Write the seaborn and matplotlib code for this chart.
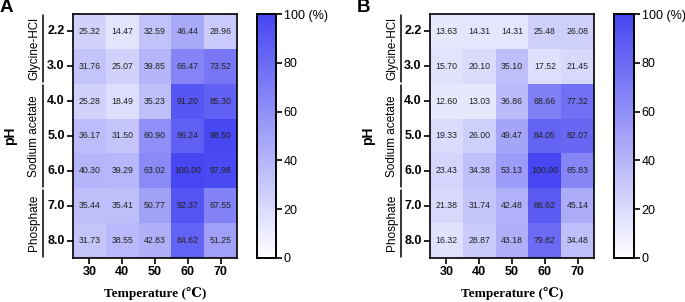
import numpy as np
import pandas as pd
import matplotlib
matplotlib.use("Agg")
import matplotlib.pyplot as plt
import seaborn as sns
from matplotlib.colors import LinearSegmentedColormap
import matplotlib.transforms as mtransforms

# =====================
# DATA
# =====================
temps = [30, 40, 50, 60, 70]
ph_labels = ["2.2", "3.0", "4.0", "5.0", "6.0", "7.0", "8.0"]
buffers = ["Glycine-HCl", "Sodium acetate", "Phosphate"]
buffer_rows = [(0, 2), (2, 5), (5, 7)]

vals_a = [
    [25.32, 14.47, 32.59, 46.44, 28.96],
    [31.76, 25.07, 39.85, 66.47, 73.52],
    [25.28, 18.49, 35.23, 91.20, 85.30],
    [36.17, 31.50, 60.90, 86.24, 98.50],
    [40.30, 39.29, 63.02, 100.00, 97.98],
    [35.44, 35.41, 50.77, 92.37, 67.55],
    [31.73, 38.55, 42.83, 84.62, 51.25],
]
vals_b = [
    [13.63, 14.31, 14.31, 25.48, 26.08],
    [15.70, 20.10, 35.10, 17.52, 21.45],
    [12.60, 13.03, 36.86, 68.66, 77.32],
    [19.33, 26.00, 49.47, 84.05, 82.07],
    [23.43, 34.38, 53.13, 100.00, 65.83],
    [21.38, 31.74, 42.48, 88.62, 45.14],
    [16.32, 28.87, 43.18, 79.82, 34.48],
]
cbar_ticks = [0, 20, 40, 60, 80, 100]
cbar_ticklabels = ["0", "20", "40", "60", "80", "100 (%)"]

# =====================
# STYLE
# =====================
sns.set_theme(style="white")
plt.rcParams["font.family"] = ["Liberation Sans", "DejaVu Sans"]
for key in ["text.color", "axes.labelcolor", "xtick.color", "ytick.color"]:
    plt.rcParams[key] = "black"
cmap = LinearSegmentedColormap.from_list("wb", ["#ffffff", "#4646f2"])

fig = plt.figure(figsize=(6.85, 3.02), dpi=100)
W, H = 685.0, 302.0


def px_axes(x0, y0, x1, y1):
    return fig.add_axes([x0 / W, 1 - y1 / H, (x1 - x0) / W, (y1 - y0) / H])


def draw_panel(vals, letter, letter_x, hx0, hx1, cx0, cx1, lx):
    ax = px_axes(hx0, 14, hx1, 258)
    cax = px_axes(cx0, 14, cx1, 258)
    df = pd.DataFrame(vals, index=ph_labels, columns=temps)
    sns.heatmap(df, ax=ax, cbar_ax=cax, cmap=cmap, vmin=0, vmax=100,
                annot=True, fmt=".2f",
                annot_kws={"fontsize": 6.3, "color": "#222222"})
    for s in ax.spines.values():
        s.set_visible(True)
        s.set_linewidth(1.2)
        s.set_color("black")
    ax.tick_params(axis="both", which="major", length=4, width=1.2,
                   direction="out", color="black", labelcolor="black",
                   pad=2, left=True, bottom=True)
    ax.set_yticklabels(ph_labels, rotation=0, fontsize=9, fontweight="bold")
    ax.set_xticklabels([str(t) for t in temps], rotation=0, fontsize=9,
                       fontweight="bold")
    ax.set_xlabel("Temperature (\u2103)", family=["Liberation Serif", "DejaVu Serif"],
                  fontsize=9.5, fontweight="bold", labelpad=6, color="black")
    ax.set_ylabel("")

    # colorbar
    for s in cax.spines.values():
        s.set_visible(True)
        s.set_linewidth(1.2)
        s.set_color("black")
    cax.set_yticks(cbar_ticks)
    cax.set_yticklabels(cbar_ticklabels, fontsize=9)
    cax.tick_params(axis="y", length=4, width=1.2, direction="out",
                    color="black", labelcolor="black", right=True, pad=1.5)

    # buffer brackets and labels
    trans = mtransforms.blended_transform_factory(fig.transFigure, ax.transData)
    for name, (r0, r1) in zip(buffers, buffer_rows):
        ax.plot([lx / W, lx / W], [r0 + 0.04, r1 - 0.04], color="black",
                lw=1.1, transform=trans, clip_on=False)
        ax.text((lx - 9) / W, (r0 + r1) / 2, name, transform=trans,
                rotation=90, ha="center", va="center", fontsize=8.5,
                color="black")

    fig.text((lx - 33) / W, 1 - 136 / H, "pH", rotation=90, ha="center",
             va="center", fontsize=10, fontweight="bold", color="black")
    fig.text(letter_x / W, 1 - 8 / H, letter, ha="left", va="center",
             fontsize=13.5, fontweight="bold", color="black")


draw_panel(vals_a, "A", 0, 73, 237, 257, 276, 43)
draw_panel(vals_b, "B", 357, 430, 594, 614, 634, 401)

fig.savefig("out.png", dpi=100)
